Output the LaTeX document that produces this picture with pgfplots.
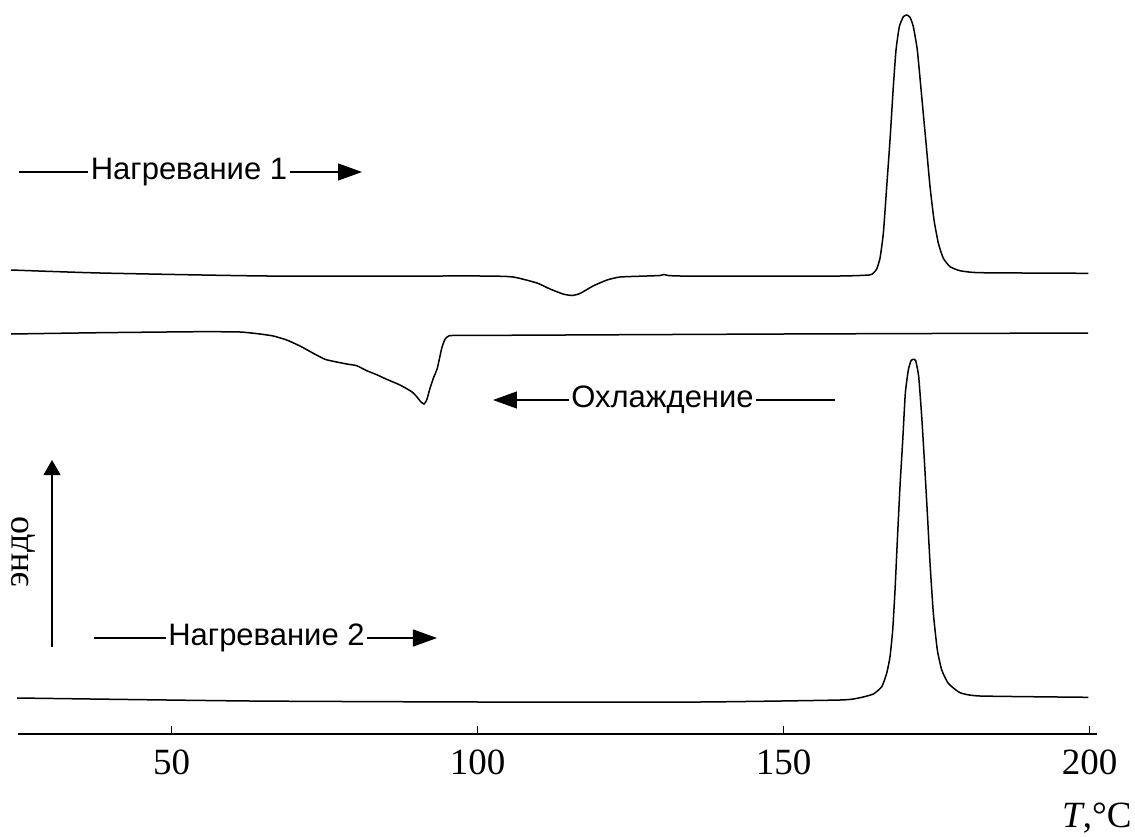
\documentclass[border=0pt]{standalone}
\usepackage{fontspec}
\setmainfont{Liberation Serif}
\newfontfamily\arial{Liberation Sans}
\usepackage{pgfplots}
\pgfplotsset{compat=1.18}
\usetikzlibrary{arrows.meta}

\pgfplotstableread{
x y
23.76 464
38.30 461
65.59 458
100.39 458
105.78 457
109.70 451
111.83 445
113.95 440
115.42 438.5
116.73 440.5
118.85 448
121.14 454
123.27 457
127.68 458
129.80 458.5
130.46 459.5
131.11 458.5
133.07 458
141.24 458
159.21 458
164.00 459
164.66 461
165.21 465
165.75 476
166.29 500.7
166.84 547.3
167.38 594
167.92 647.3
168.36 684
168.90 707.3
169.56 717.3
170.11 719
170.65 716.7
171.19 707.3
171.84 684
172.56 637.3
173.27 590.7
173.92 547.3
174.57 514
175.28 490.7
176.09 475.7
177.19 467.3
178.82 463.3
182.09 461.3
199.79 460.7
}\heatone

\pgfplotstableread{
x y
23.76 400
38.30 401.3
54.64 402.3
61.17 402
64.44 400
66.62 398
68.81 394
70.98 388
73.15 380.7
75.06 374.7
76.42 372.7
78.61 370
80.24 368.3
81.88 363.3
83.51 359.3
85.14 354.7
87.32 349
89.23 342.3
90.05 337.3
90.70 332.3
91.24 330
91.68 334
92.22 345.7
92.76 355.7
93.41 365.7
94.13 385.7
94.67 394.7
95.38 398.3
98.22 398.7
103.66 398.7
150.00 400
199.74 401
}\cooling

\pgfplotstableread{
x y
24.74 36
62.80 33
100.39 32
136.30 32
159.21 34
162.48 36.3
164.66 40
166.03 47.3
166.84 60.7
167.38 77.3
167.82 104
168.20 144
168.58 194
169.01 247.3
169.46 294
169.88 340.7
170.37 364
170.81 373.3
171.19 374.7
171.58 373.3
172.07 357.3
172.56 317.3
172.99 274
173.48 220.7
173.92 170.7
174.46 120.7
175.11 84
175.83 64
176.90 50.7
178.82 41.3
182.09 38
199.79 36.7
}\heattwo

\begin{document}
\begin{tikzpicture}
\begin{axis}[
  scale only axis,
  width=539.5pt, height=359.5pt,
  xmin=24.9, xmax=201.2, ymin=0, ymax=719,
  axis y line=none,
  axis x line*=bottom,
  axis line style={line width=0.7pt},
  xtick={50,100,150,200},
  ytick=\empty,
  tick align=inside,
  major tick length=4pt,
  tick style={line width=0.6pt, black},
  /pgf/number format/assume math mode=true,
  xticklabel style={font=\fontsize{18.5}{20}\selectfont, inner sep=0pt, anchor=north, yshift=-7.5pt},
  clip=false,
]
\addplot[black, line width=0.75pt, smooth, tension=0.3] table {\heatone};
\addplot[black, line width=0.75pt, smooth, tension=0.3] table {\cooling};
\addplot[black, line width=0.75pt, smooth, tension=0.3] table {\heattwo};

% annotations
\node[font=\arial\fontsize{15.5}{17}\selectfont, inner sep=1pt] (n1) at (axis cs:52.84,562) {Нагревание 1};
\draw[line width=0.6pt] (axis cs:25.06,562) -- (n1.west);
\draw[line width=0.6pt, -{Triangle[length=12pt,width=8.5pt]}] (n1.east) -- (axis cs:81.11,562);

\node[font=\arial\fontsize{15.5}{17}\selectfont, inner sep=1pt] (n2) at (axis cs:130.21,334) {Охлаждение};
\draw[line width=0.6pt, -{Triangle[length=12pt,width=8.5pt]}] (n2.west) -- (axis cs:102.51,334);
\draw[line width=0.6pt] (n2.east) -- (axis cs:158.40,334);

\node[font=\arial\fontsize{15.5}{17}\selectfont, inner sep=1pt] (n3) at (axis cs:65.50,96) {Нагревание 2};
\draw[line width=0.6pt] (axis cs:37.32,96) -- (n3.west);
\draw[line width=0.6pt, -{Triangle[length=12pt,width=8.5pt]}] (n3.east) -- (axis cs:93.36,96);

\draw[line width=0.6pt, -{Triangle[length=7.5pt,width=8.5pt]}] (axis cs:30.46,87) -- (axis cs:30.46,274);
\node[rotate=90, font=\fontsize{18}{20}\selectfont, inner sep=0pt] at (axis cs:25.72,182) {эндо};

\node[anchor=base east, font=\fontsize{18.5}{20}\selectfont, inner sep=0pt] at (axis cs:206.9,-93) {\textit{T},°C};

\coordinate (bl) at (axis cs:21.96,-102);
\coordinate (tr) at (axis cs:207.41,734);
\end{axis}
\pgfresetboundingbox
\path[use as bounding box] (bl) rectangle (tr);
\end{tikzpicture}
\end{document}
